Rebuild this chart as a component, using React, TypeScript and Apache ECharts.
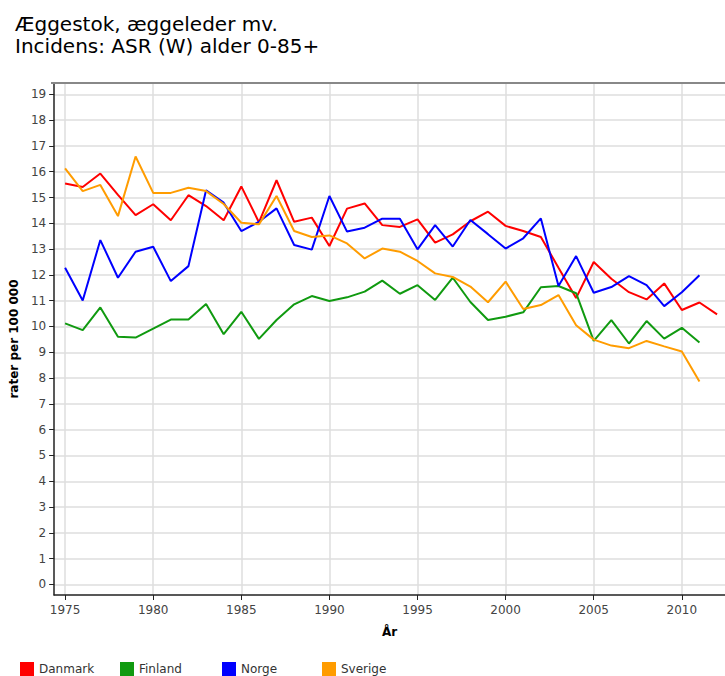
import React, { useEffect, useRef } from "react";
import * as echarts from "echarts";

const years: number[] = [];
for (let y = 1975; y <= 2012; y++) years.push(y);

const danmark = [15.54, 15.41, 15.93, 15.1, 14.32, 14.74, 14.12, 15.09, 14.67, 14.12, 15.43, 14.04, 15.67, 14.06, 14.22, 13.12, 14.57, 14.77, 13.93, 13.86, 14.15, 13.25, 13.57, 14.08, 14.45, 13.9, 13.7, 13.47, 12.28, 11.1, 12.5, 11.85, 11.33, 11.05, 11.67, 10.64, 10.93, 10.47];
const finland = [10.12, 9.86, 10.74, 9.6, 9.57, 9.92, 10.27, 10.27, 10.87, 9.7, 10.57, 9.52, 10.25, 10.86, 11.18, 10.99, 11.13, 11.35, 11.78, 11.27, 11.6, 11.03, 11.89, 10.95, 10.25, 10.38, 10.55, 11.52, 11.57, 11.29, 9.44, 10.25, 9.34, 10.21, 9.53, 9.95, 9.38];
const norge = [12.28, 11.01, 13.35, 11.89, 12.9, 13.09, 11.76, 12.34, 15.28, 14.8, 13.7, 14.06, 14.58, 13.16, 12.98, 15.06, 13.68, 13.83, 14.18, 14.18, 12.99, 13.93, 13.1, 14.13, 13.58, 13.02, 13.42, 14.19, 11.57, 12.73, 11.31, 11.53, 11.95, 11.6, 10.79, 11.33, 11.99];
const sverige = [16.13, 15.25, 15.49, 14.28, 16.59, 15.18, 15.18, 15.38, 15.25, 14.75, 14.02, 13.96, 15.06, 13.7, 13.47, 13.53, 13.22, 12.64, 13.02, 12.9, 12.54, 12.06, 11.92, 11.55, 10.94, 11.74, 10.68, 10.83, 11.22, 10.05, 9.49, 9.26, 9.16, 9.44, 9.23, 9.03, 7.87];

const seriesNames = ["Danmark", "Finland", "Norge", "Sverige"];
const seriesValues = [danmark, finland, norge, sverige];
const seriesColors = ["#ff0000", "#109a10", "#0000ff", "#ff9c00"];
const legendLefts = [15, 115, 217, 317];

const yTicks = [0, 1, 2, 3, 4, 5, 6, 7, 8, 9, 10, 11, 12, 13, 14, 15, 16, 17, 18, 19];
const xTicks = [1975, 1980, 1985, 1990, 1995, 2000, 2005, 2010];

const titleText = "Æggestok, æggeleder mv.\nIncidens: ASR (W) alder 0-85+";
const FONT = "DejaVu Sans";

export default function App() {
  const ref = useRef<HTMLDivElement>(null);
  useEffect(() => {
    if (!ref.current) return;
    const chart = echarts.init(ref.current, null, { renderer: "svg" });
    chart.setOption({
      animation: false,
      backgroundColor: "#ffffff",
      textStyle: { fontFamily: FONT },
      title: {
        text: titleText,
        left: 10,
        top: 8,
        textStyle: { fontFamily: FONT, fontSize: 20, fontWeight: "normal", color: "#000", lineHeight: 22 },
      },
      legend: seriesNames.map((name, i) => ({
        left: legendLefts[i],
        top: 657,
        itemWidth: 14,
        itemHeight: 14,
        icon: "rect",
        data: [name],
        textStyle: { fontFamily: FONT, fontSize: 12, color: "#333" },
      })),
      grid: { left: 51, right: 0, top: 83, bottom: 81, containLabel: false },
      xAxis: {
        type: "value",
        min: 1974.38,
        max: 2012.45,
        name: "År",
        nameLocation: "middle",
        nameGap: 31,
        nameTextStyle: { fontFamily: FONT, fontSize: 12, fontWeight: "bold", color: "#000" },
        axisLine: { show: true, onZero: false, lineStyle: { color: "#222", width: 1.5 } },
        axisTick: { show: true, length: 5, customValues: xTicks, lineStyle: { color: "#222" } },
        axisLabel: {
          customValues: xTicks,
          formatter: (v: number) => String(v),
          fontFamily: FONT,
          fontSize: 12,
          color: "#444",
          margin: 9,
        },
        splitLine: { show: true, lineStyle: { color: "#dedede", width: 1.5 } },
      },
      yAxis: {
        type: "value",
        min: -0.41,
        max: 19.44,
        name: "rater per 100 000",
        nameLocation: "middle",
        nameGap: 30,
        nameTextStyle: { fontFamily: FONT, fontSize: 12, fontWeight: "bold", color: "#000" },
        axisLine: { show: true, onZero: false, lineStyle: { color: "#222", width: 1.5 } },
        axisTick: { show: true, length: 5, customValues: yTicks, lineStyle: { color: "#222" } },
        axisLabel: {
          customValues: yTicks,
          fontFamily: FONT,
          fontSize: 12,
          color: "#444",
          margin: 8,
        },
        splitLine: { show: true, lineStyle: { color: "#dedede", width: 1.5 } },
      },
      graphic: [
        {
          type: "line",
          shape: { x1: 51, y1: 83, x2: 725, y2: 83 },
          style: { stroke: "#888", lineWidth: 2 },
          z: 10,
        },
      ],
      series: seriesNames.map((name, i) => ({
        name,
        type: "line",
        symbol: "none",
        color: seriesColors[i],
        lineStyle: { width: 2, color: seriesColors[i] },
        data: seriesValues[i].map((v, j) => [years[j], v]),
      })),
    });
    return () => chart.dispose();
  }, []);
  return (
    <div
      ref={ref}
      style={{ position: "fixed", left: 0, top: 0, width: 725, height: 676 }}
    />
  );
}
